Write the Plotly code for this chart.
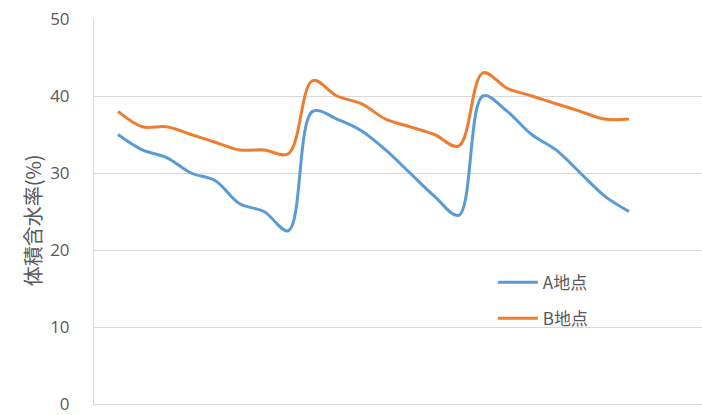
import plotly.graph_objects as go

# Measurement index (evenly spaced observations)
obs = list(range(22))

# Volumetric water content (%) at the two sites
site_a = [35, 33, 32, 30, 29, 26, 25, 22.5, 38, 37, 35.5, 33, 30, 27, 24.5,
          40, 38, 35, 33, 30, 27, 25]
site_b = [38, 36, 36, 35, 34, 33, 33, 32.5, 42, 40, 39, 37, 36, 35, 33.5,
          43, 41, 40, 39, 38, 37, 37]

series_names = ["A地点", "B地点"]
series_colors = ["#5B9BD5", "#ED7D31"]
y_ticks = [0, 10, 20, 30, 40, 50]

fig = go.Figure()
for name, vals, col in zip(series_names, [site_a, site_b], series_colors):
    fig.add_trace(go.Scatter(
        x=obs, y=vals, name=name, mode="lines",
        line=dict(color=col, width=3, shape="spline", smoothing=1),
        legendgroup=name,
    ))

grid_col = "#D9D9D9"
text_col = "#595959"

fig.update_layout(
    width=702, height=415,
    margin=dict(l=94, r=0, t=19, b=8),
    paper_bgcolor="white", plot_bgcolor="white",
    font=dict(family="Noto Sans CJK JP", color=text_col, size=16),
    showlegend=True,
    legend=dict(
        x=0.656, y=0.362, xanchor="left", yanchor="top",
        font=dict(size=17, color=text_col),
        bgcolor="rgba(0,0,0,0)",
        tracegroupgap=11,
        itemwidth=40,
    ),
    xaxis=dict(
        range=[-0.986, 24.0],
        showgrid=False, zeroline=False,
        showline=True, linecolor=grid_col, linewidth=1,
        showticklabels=False, ticks="",
    ),
    yaxis=dict(
        range=[0, 50], tickvals=y_ticks,
        showgrid=True, gridcolor=grid_col, gridwidth=1,
        zeroline=False,
        showline=True, linecolor=grid_col, linewidth=1,
        ticks="", ticklabelstandoff=20,
        ticklabeloverflow="allow",
        tickfont=dict(size=17, color=text_col, family="Open Sans"),
    ),
)

fig.add_annotation(
    text="体積含水率(%)", textangle=-90,
    xref="paper", yref="paper", x=0, y=0.477,
    xanchor="center", yanchor="middle", xshift=-62,
    showarrow=False,
    font=dict(size=20, color=text_col, family="Noto Sans CJK JP"),
)

fig.write_html("out.html")
